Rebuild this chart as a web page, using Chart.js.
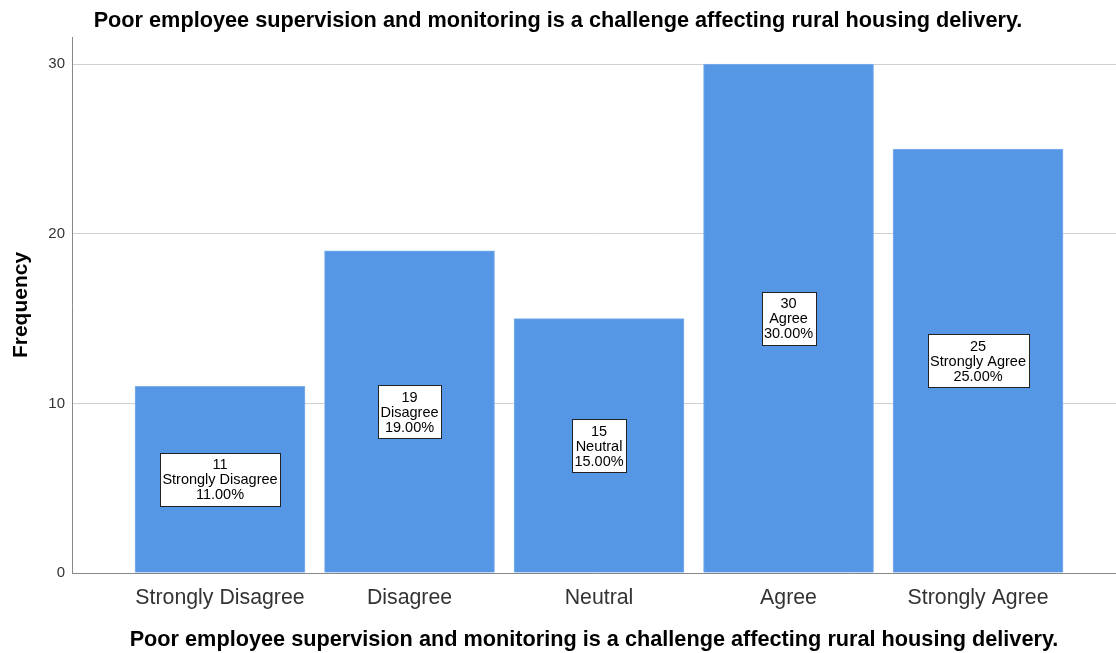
<!DOCTYPE html>
<html>
<head>
<meta charset="utf-8">
<script src="https://cdn.jsdelivr.net/npm/chart.js@4"></script>
<style>
  body { margin: 0; background: #fff; }
  #wrap { width: 1116px; height: 653px; }
</style>
</head>
<body>
<div id="wrap"><canvas id="freqChart" width="1116" height="653"></canvas></div>
<script>
const categories = ['Strongly Disagree', 'Disagree', 'Neutral', 'Agree', 'Strongly Agree'];
const counts = [11, 19, 15, 30, 25];
const yTicks = [0, 10, 20, 30];
const titleText = 'Poor employee supervision and monitoring is a challenge affecting rural housing delivery.';

const total = counts.reduce((a, b) => a + b, 0);
const FONT = '"Liberation Sans", Arial, sans-serif';

const boxLabels = {
    id: 'boxLabels',
    afterDatasetsDraw(chart) {
        const ctx = chart.ctx;
        const meta = chart.getDatasetMeta(0);
        ctx.save();
        ctx.font = '14.5px ' + FONT;
        ctx.textAlign = 'center';
        ctx.textBaseline = 'middle';
        meta.data.forEach((bar, i) => {
            const lines = [String(counts[i]), categories[i], (counts[i] / total * 100).toFixed(2) + '%'];
            const w = Math.round(Math.max(...lines.map(l => ctx.measureText(l).width)) + 5);
            const lh = 15;
            const h = 53;
            const cy = (bar.y + bar.base) / 2;
            const x0 = Math.round(bar.x - w / 2) + 0.5;
            const y0 = Math.round(cy - h / 2) + 0.5;
            ctx.fillStyle = '#fff';
            ctx.fillRect(x0, y0, w, h);
            ctx.strokeStyle = '#222';
            ctx.lineWidth = 1;
            ctx.strokeRect(x0, y0, w, h);
            ctx.fillStyle = '#000';
            lines.forEach((l, k) => ctx.fillText(l, bar.x, cy + 1 + (k - 1) * lh));
        });
        ctx.restore();
    }
};

const ctx = document.getElementById('freqChart').getContext('2d');
const myChart = new Chart(ctx, {
    type: 'bar',
    data: {
        datasets: [{
            label: 'Frequency',
            data: counts.map((v, i) => ({ x: i, y: v })),
            backgroundColor: '#5596e5',
            borderColor: '#7fb0ec',
            borderWidth: 1,
            barThickness: 170
        }]
    },
    options: {
        responsive: false,
        animation: false,
        layout: { padding: 0 },
        plugins: {
            legend: { display: false },
            tooltip: { enabled: false },
            title: {
                display: true,
                text: titleText,
                color: '#000',
                font: { family: FONT, size: 21.7, weight: 'bold' },
                padding: { top: 8, bottom: 3 }
            }
        },
        scales: {
            x: {
                type: 'linear',
                offset: false,
                min: -0.781,
                max: 4.728,
                afterBuildTicks: s => { s.ticks = categories.map((c, i) => ({ value: i })); },
                ticks: {
                    callback: v => categories[v],
                    color: '#333',
                    font: { family: FONT, size: 21.3 },
                    padding: 4,
                    maxRotation: 0,
                    autoSkip: false
                },
                grid: { display: false, offset: false },
                border: { display: true, color: '#888', width: 1 },
                title: {
                    display: true,
                    text: titleText,
                    color: '#000',
                    font: { family: FONT, size: 21.7, weight: 'bold' },
                    padding: { top: 20, bottom: 0 }
                },
                afterFit: s => { s.height = 80; }
            },
            y: {
                min: 0,
                max: 31.6,
                afterBuildTicks: s => { s.ticks = yTicks.map(v => ({ value: v })); },
                ticks: {
                    color: '#333',
                    font: { family: FONT, size: 15 },
                    padding: 7
                },
                grid: { color: '#d0d0d0', drawTicks: false },
                border: { display: true, color: '#888', width: 1 },
                title: {
                    display: true,
                    text: 'Frequency',
                    color: '#000',
                    font: { family: FONT, size: 21, weight: 'bold' },
                    padding: { top: 9, bottom: 11 }
                },
                afterFit: s => { s.width = 72; }
            }
        }
    },
    plugins: [boxLabels]
});
</script>
</body>
</html>
